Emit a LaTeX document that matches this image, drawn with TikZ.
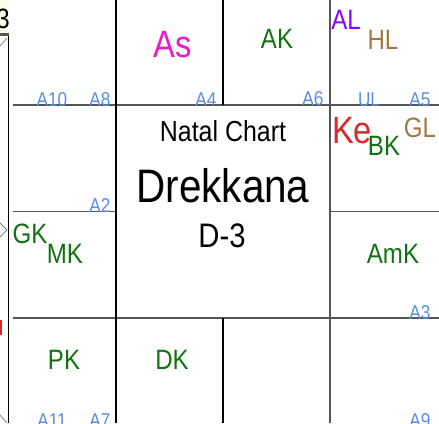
\documentclass[tikz,border=0pt]{standalone}
\usepackage{fontspec}
\setmainfont{Liberation Sans}[FakeStretch=0.86]
\definecolor{chartline}{RGB}{85,85,85}
\definecolor{lagnapink}{RGB}{235,25,200}
\definecolor{karakagreen}{RGB}{16,115,16}
\definecolor{alpurple}{RGB}{140,0,255}
\definecolor{lagnabrown}{RGB}{160,120,70}
\definecolor{ketured}{RGB}{220,40,40}
\definecolor{arudhablue}{RGB}{90,140,225}
\definecolor{panelbeige}{RGB}{255,252,232}
\usepackage{tikz}

\tikzset{
  housetext/.style={inner sep=0pt,anchor=base},
  karaka/.style={housetext,text=karakagreen,font=\fontsize{28}{28}\selectfont},
  arudha/.style={housetext,text=arudhablue,font=\fontsize{20}{20}\selectfont},
  bigtext/.style={housetext,font=\fontsize{38}{38}\selectfont},
}

\begin{document}
\begin{tikzpicture}[x=1pt,y=-1pt]
  \useasboundingbox (0,0) rectangle (439,423);
  \clip (0,0) rectangle (439,423);

  % cut-off panel at the left edge
  \fill[panelbeige] (0,0) rectangle (8,33);
  \node[housetext,font=\fontsize{28}{28}\selectfont] (panelthree) at (3,28) {3};
  \fill[chartline] (0,33) rectangle (9,36);
  \draw[black,line width=1pt] (8,36) -- (8,423);
  \draw[gray,line width=0.8pt] (0,46) -- (7,38);
  \draw[gray,line width=0.8pt] (0,223) -- (7,230) -- (0,237);
  \fill[ketured] (0,320) rectangle (2,335);
  \draw[gray,line width=0.8pt] (0,415) -- (7,423);

  % houses
  \draw[chartline,line width=1.5pt] (13,105) -- (439,105);
  \draw[chartline,line width=1.5pt] (13,211.5) -- (116,211.5);
  \draw[chartline,line width=1.5pt] (330,211.5) -- (439,211.5);
  \draw[chartline,line width=1.5pt] (13,318) -- (439,318);
  \draw[black,line width=1.3pt] (116,0) -- (116,423);
  \draw[black,line width=1.3pt] (223,0) -- (223,105);
  \draw[black,line width=1.3pt] (223,318) -- (223,423);
  \draw[chartline,line width=1.5pt] (330,0) -- (330,423);

  % centre titles
  \node[housetext,font=\fontsize{29}{29}\selectfont] (natal) at (223,141) {Natal Chart};
  \node[housetext,font=\fontsize{47}{47}\selectfont] (varga) at (223,202) {Drekkana};
  \node[housetext,font=\fontsize{34}{34}\selectfont] (vargano) at (222,247) {D-3};

  % lagnas and planets
  \node[bigtext,text=lagnapink] (as) at (173,57) {As};
  \node[karaka] (ak) at (277,48) {AK};
  \node[housetext,text=alpurple,font=\fontsize{28}{28}\selectfont] (al) at (346,29) {AL};
  \node[housetext,text=lagnabrown,font=\fontsize{28}{28}\selectfont] (hl) at (383,49) {HL};
  \node[bigtext,text=ketured] (ke) at (352,143) {Ke};
  \node[karaka] (bk) at (384,155) {BK};
  \node[housetext,text=lagnabrown,font=\fontsize{28}{28}\selectfont] (gl) at (420,137) {GL};
  \node[karaka] (gk) at (30,243) {GK};
  \node[karaka] (mk) at (65,263) {MK};
  \node[karaka] (amk) at (393,263) {AmK};
  \node[karaka] (pk) at (64,369) {PK};
  \node[karaka] (dk) at (172,369) {DK};

  % arudhas
  \node[arudha] (a10) at (52,106) {A10};
  \node[arudha] (a8) at (100,106) {A8};
  \node[arudha] (a4) at (206,106) {A4};
  \node[arudha] (a6) at (313,105) {A6};
  \node[arudha] (ul) at (369,106) {UL};
  \node[arudha] (a5) at (420,106) {A5};
  \node[arudha] (a2) at (100,212) {A2};
  \node[arudha] (a3) at (420,319) {A3};
  \node[arudha] (a11) at (52,427) {A11};
  \node[arudha] (a7) at (100,427) {A7};
  \node[arudha] (a9) at (420,427) {A9};
\end{tikzpicture}
\end{document}
